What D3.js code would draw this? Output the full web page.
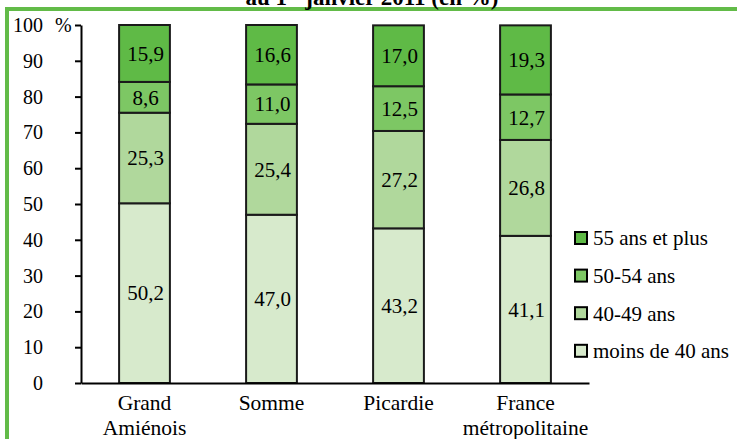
<!DOCTYPE html>
<html>
<head>
<meta charset="utf-8">
<script src="https://cdn.jsdelivr.net/npm/d3@7"></script>
<style>
  html, body { margin: 0; padding: 0; background: #fff; }
  svg { display: block; }
  svg text { font-family: "Liberation Serif", "Times New Roman", Times, serif; }
</style>
</head>
<body>
<div id="chart"></div>
<script>
const categories = ["Grand\nAmiénois", "Somme", "Picardie", "France\nmétropolitaine"];
const seriesNames = ["moins de 40 ans", "40-49 ans", "50-54 ans", "55 ans et plus"];
const moins40 = [50.2, 47.0, 43.2, 41.1];
const ans4049 = [25.3, 25.4, 27.2, 26.8];
const ans5054 = [8.6, 11.0, 12.5, 12.7];
const ans55plus = [15.9, 16.6, 17.0, 19.3];
const yTicks = [0, 10, 20, 30, 40, 50, 60, 70, 80, 90, 100];
const seriesColors = ["#d7eacc", "#b0d89c", "#7dc764", "#5fba46"];

const W = 737, H = 439;
const svg = d3.select("#chart").append("svg").attr("width", W).attr("height", H);

/* frame + title (cut by the top edge, as in the source) */
svg.append("rect").attr("x", 7).attr("y", 9).attr("width", 800).attr("height", 500)
  .attr("fill", "none").attr("stroke", "#62bb48").attr("stroke-width", 4);

const title = svg.append("text").attr("x", 372).attr("y", 5).attr("text-anchor", "middle")
  .attr("font-size", "23px").attr("font-weight", "bold").attr("fill", "#000");
title.append("tspan").text("au 1");
title.append("tspan").attr("font-size", "14px").attr("dy", -8).text("er");
title.append("tspan").attr("dy", 8).text(" janvier 2011 (en %)");

const keys = seriesNames;
const rows = categories.map((c, i) => ({
  cat: c,
  [keys[0]]: moins40[i], [keys[1]]: ans4049[i], [keys[2]]: ans5054[i], [keys[3]]: ans55plus[i]
}));
const stacked = d3.stack().keys(keys)(rows);

const x = d3.scaleBand().domain(categories).range([81, 589]).paddingInner(0.6).paddingOuter(0.3);
const y = d3.scaleLinear().domain([0, 100]).range([383, 25]);
const color = d3.scaleOrdinal().domain(keys).range(seriesColors);
const fmt = v => d3.format(".1f")(v).replace(".", ",");

/* bars */
const layer = svg.append("g").selectAll("g").data(stacked).join("g").attr("fill", d => color(d.key));
layer.selectAll("rect").data(d => d).join("rect")
  .attr("x", d => x(d.data.cat))
  .attr("y", d => y(d[1]))
  .attr("width", x.bandwidth())
  .attr("height", d => y(d[0]) - y(d[1]))
  .attr("stroke", "#1a1a1a").attr("stroke-width", 2);

layer.selectAll("text").data(d => d).join("text")
  .attr("x", d => x(d.data.cat) + x.bandwidth() / 2 + 1)
  .attr("y", d => (y(d[0]) + y(d[1])) / 2)
  .attr("dy", "0.35em").attr("text-anchor", "middle")
  .attr("font-size", "21px").attr("fill", "#000")
  .text(d => fmt(d[1] - d[0]));

/* y axis */
const yAxis = svg.append("g").attr("transform", "translate(81,0)")
  .call(d3.axisLeft(y).tickValues(yTicks).tickSize(6).tickSizeOuter(0).tickPadding(32));
yAxis.attr("font-family", null);
yAxis.select(".domain").attr("stroke", "#000").attr("stroke-width", 2);
yAxis.selectAll(".tick line").attr("stroke", "#000").attr("stroke-width", 2);
yAxis.selectAll(".tick text").attr("font-size", "20px").attr("fill", "#000");
yAxis.selectAll(".tick").filter(d => d === 100).append("text")
  .attr("x", -26).attr("dy", "0.32em").attr("text-anchor", "start")
  .attr("font-size", "20px").attr("fill", "#000")
  .text("%");

/* x axis */
const xAxis = svg.append("g").attr("transform", "translate(0,383)")
  .call(d3.axisBottom(x).tickSize(0).tickSizeOuter(0).tickFormat(""));
xAxis.attr("font-family", null);
xAxis.select(".domain").attr("stroke", "#000").attr("stroke-width", 2);
xAxis.selectAll(".tick").each(function (d) {
  const t = d3.select(this).append("text").attr("text-anchor", "middle")
    .attr("font-size", "21.5px").attr("fill", "#000");
  d.split("\n").forEach((line, i) => {
    t.append("tspan").attr("x", 0).attr("y", 27 + i * 25).text(line);
  });
});

/* legend */
const legend = svg.append("g").selectAll("g").data(keys.slice().reverse()).join("g")
  .attr("transform", (d, i) => `translate(575,${238 + i * 37.6})`);
legend.append("rect").attr("x", 0).attr("y", -6).attr("width", 12).attr("height", 12)
  .attr("fill", d => color(d)).attr("stroke", "#000").attr("stroke-width", 2);
legend.append("text").attr("x", 18).attr("dy", "0.35em")
  .attr("font-size", "21px").attr("fill", "#000").text(d => d);
</script>
</body>
</html>
